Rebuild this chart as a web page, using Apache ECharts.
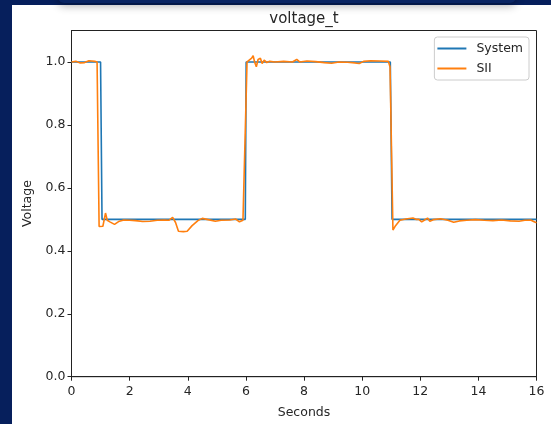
<!DOCTYPE html>
<html>
<head>
<meta charset="utf-8">
<script src="https://cdn.jsdelivr.net/npm/echarts@6/dist/echarts.min.js"></script>
<style>
  html, body { margin: 0; padding: 0; width: 551px; height: 424px; overflow: hidden; background: #061f5c; }
  #panel { position: absolute; left: 12px; top: 5px; width: 539px; height: 419px; background: #ffffff; }
  #topbar { position: absolute; left: 58px; top: -20px; width: 458px; height: 23px; background: #0a2563;
            border-radius: 6px; box-shadow: 0 3px 8px rgba(0,0,0,0.3); }
  #chart { position: absolute; left: 0; top: 0; width: 551px; height: 424px; }
</style>
</head>
<body>
<div id="panel"></div>
<div id="topbar"></div>
<div id="chart"></div>
<script>
// Reference voltage (step profile), [seconds, p.u.]
const systemSeries = [
  [0, 1.0], [1.0, 1.0], [1.05, 0.5], [5.98, 0.5], [6.01, 1.0],
  [10.97, 1.0], [11.03, 0.5], [16, 0.5]
];

// Identified model response, [seconds, p.u.]
const siiSeries = [
  [0, 1.0], [0.15, 1.002], [0.3, 0.997], [0.45, 0.998], [0.6, 1.004], [0.7, 1.003],
  [0.8, 1.002], [0.88, 1.0], [0.95, 0.477], [1.08, 0.478], [1.17, 0.52], [1.23, 0.497],
  [1.32, 0.492], [1.48, 0.484], [1.62, 0.493], [1.8, 0.498], [2.0, 0.497], [2.2, 0.496],
  [2.45, 0.493], [2.7, 0.494], [2.95, 0.497], [3.2, 0.498], [3.35, 0.497], [3.48, 0.506],
  [3.58, 0.49], [3.68, 0.462], [3.85, 0.461], [3.98, 0.462], [4.15, 0.48], [4.35, 0.496],
  [4.5, 0.503], [4.7, 0.499], [4.95, 0.494], [5.15, 0.497], [5.45, 0.498], [5.65, 0.501],
  [5.78, 0.492], [5.9, 0.497], [6.04, 1.0], [6.1, 1.005], [6.2, 1.012], [6.25, 1.02],
  [6.3, 1.0], [6.36, 0.985], [6.42, 1.008], [6.5, 1.012], [6.56, 0.995], [6.63, 1.006],
  [6.72, 0.998], [6.82, 1.002], [7.0, 1.0], [7.3, 1.002], [7.6, 1.0], [7.75, 1.008],
  [7.85, 1.0], [8.1, 1.003], [8.4, 1.001], [8.7, 0.998], [8.95, 0.996], [9.2, 1.0],
  [9.5, 0.999], [9.75, 0.997], [9.9, 0.995], [10.05, 1.002], [10.3, 1.004], [10.6, 1.003],
  [10.9, 1.002], [10.96, 0.985], [11.06, 0.466], [11.15, 0.48], [11.3, 0.497], [11.5, 0.501],
  [11.75, 0.504], [11.85, 0.5], [11.95, 0.5], [12.05, 0.492], [12.15, 0.498], [12.25, 0.504],
  [12.33, 0.494], [12.45, 0.499], [12.7, 0.502], [12.95, 0.497], [13.15, 0.491], [13.35, 0.495],
  [13.6, 0.497], [13.9, 0.499], [14.2, 0.497], [14.5, 0.496], [14.8, 0.498], [15.1, 0.495],
  [15.4, 0.494], [15.6, 0.497], [15.8, 0.498], [15.9, 0.493], [16.0, 0.489]
];

const yTicks = [0, 0.2, 0.4, 0.6, 0.8, 1.0];
const seriesNames = ['System', 'SII'];

const FONT = 'DejaVu Sans';
const INK = '#262626';

const chart = echarts.init(document.getElementById('chart'), null, { renderer: 'canvas' });
chart.setOption({
  animation: false,
  backgroundColor: 'transparent',
  grid: {
    left: 71.5, right: 14.5, top: 30.5, bottom: 47.3,
    outerBoundsMode: 'none', containLabel: false,
    show: true, borderColor: '#222', borderWidth: 1, backgroundColor: 'transparent'
  },
  graphic: [{
    type: 'text', x: 304, y: 19,
    style: { text: 'voltage_t', font: '15px "DejaVu Sans"', fill: INK, textAlign: 'center', textVerticalAlign: 'middle' }
  }],
  legend: {
    data: seriesNames,
    orient: 'vertical', right: 22, top: 37,
    icon: 'rect', itemWidth: 29, itemHeight: 2, itemGap: 5,
    padding: [4, 6, 4, 3],
    backgroundColor: 'rgba(255,255,255,0.8)', borderColor: '#cccccc', borderWidth: 1, borderRadius: 3,
    textStyle: { fontFamily: FONT, fontSize: 12.5, color: INK, padding: [0, 0, 0, 5], lineHeight: 15 }
  },
  xAxis: {
    type: 'value', min: 0, max: 16, interval: 2,
    name: 'Seconds', nameLocation: 'middle', nameGap: 30,
    nameTextStyle: { fontFamily: FONT, fontSize: 12.5, color: INK },
    axisLine: { show: true, lineStyle: { color: '#222', width: 1 } },
    axisTick: { show: true, length: 4, lineStyle: { color: '#222' } },
    axisLabel: { fontFamily: FONT, fontSize: 12.5, color: INK, margin: 9 },
    splitLine: { show: false }
  },
  yAxis: {
    type: 'value', min: 0, max: 1.1, interval: 0.2,
    name: 'Voltage', nameLocation: 'middle', nameGap: 37, nameRotate: 90,
    nameTextStyle: { fontFamily: FONT, fontSize: 12.5, color: INK },
    axisLine: { show: true, lineStyle: { color: '#222', width: 1 } },
    axisTick: { show: true, length: 4, lineStyle: { color: '#222' }, customValues: yTicks },
    axisLabel: { fontFamily: FONT, fontSize: 12.5, color: INK, margin: 6, customValues: yTicks,
                 formatter: v => v.toFixed(1) },
    splitLine: { show: false }
  },
  series: [
    { name: seriesNames[0], type: 'line', data: systemSeries, symbol: 'none',
      lineStyle: { color: '#1f77b4', width: 1.6 }, itemStyle: { color: '#1f77b4' } },
    { name: seriesNames[1], type: 'line', data: siiSeries, symbol: 'none',
      lineStyle: { color: '#ff7f0e', width: 1.6 }, itemStyle: { color: '#ff7f0e' } }
  ]
});
</script>
</body>
</html>
